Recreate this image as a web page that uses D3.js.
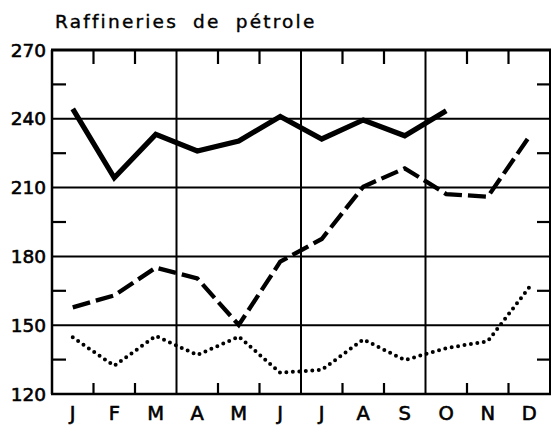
<!DOCTYPE html>
<html><head><meta charset="utf-8">
<script src="https://cdn.jsdelivr.net/npm/d3@7"></script>
<style>html,body{margin:0;padding:0;background:#fff;}svg{display:block;}</style>
</head><body>
<svg id="chart" width="552" height="425"></svg>
<script>
const months = ["J","F","M","A","M","J","J","A","S","O","N","D"];
const yTicks = [120,150,180,210,240,270];
const minorTicks = [135,165,195,225,255];
const quarterBounds = [3,6,9];
const seriesSolid = [244.3,214.3,233.2,226,230.3,241,231.2,239.5,232.6,243.5,null,null];
const seriesDashed = [157.8,163,175.1,170.4,150.1,177.7,187.6,210.4,218.4,207.2,206,232.2];
const seriesDotted = [144.7,132.3,145.3,137,145,129.3,130.5,143.8,134.8,140,143,166.5];
const title = "Raffineries de pétrole";

const svg = d3.select("#chart");
const L = 52, R = 550, T = 50, B = 394;
const idx = d3.range(months.length);
const x = d3.scaleBand().domain(idx).range([L, R]).paddingInner(0).paddingOuter(0);
const y = d3.scaleLinear().domain([120, 270]).range([B, T]);
const cx = i => x(i) + x.bandwidth() / 2;
const font = "'DejaVu Sans', sans-serif";

// horizontal grid lines
svg.append("g").selectAll("line").data(yTicks.filter(v => v > 120 && v < 270)).join("line")
  .attr("x1", L).attr("x2", R).attr("y1", d => y(d)).attr("y2", d => y(d))
  .attr("stroke", "#000").attr("stroke-width", 2);

// vertical quarter lines
svg.append("g").selectAll("line").data(quarterBounds).join("line")
  .attr("x1", d => x(d)).attr("x2", d => x(d)).attr("y1", T).attr("y2", B)
  .attr("stroke", "#000").attr("stroke-width", 2);

// month ticks (top and bottom)
const monthBounds = d3.range(1, 12).filter(i => !quarterBounds.includes(i));
svg.append("g").selectAll("line").data(monthBounds).join("line")
  .attr("x1", d => x(d)).attr("x2", d => x(d)).attr("y1", T).attr("y2", T + 14)
  .attr("stroke", "#000").attr("stroke-width", 2.2);
svg.append("g").selectAll("line").data(monthBounds).join("line")
  .attr("x1", d => x(d)).attr("x2", d => x(d)).attr("y1", B).attr("y2", B - 11)
  .attr("stroke", "#000").attr("stroke-width", 2.2);

// minor y ticks left and right
svg.append("g").selectAll("line").data(minorTicks).join("line")
  .attr("x1", L).attr("x2", L + 14).attr("y1", d => y(d)).attr("y2", d => y(d))
  .attr("stroke", "#000").attr("stroke-width", 2.2);
svg.append("g").selectAll("line").data(minorTicks).join("line")
  .attr("x1", R).attr("x2", R - 13).attr("y1", d => y(d)).attr("y2", d => y(d))
  .attr("stroke", "#000").attr("stroke-width", 2.2);

// frame
svg.append("line").attr("x1", L - 1).attr("x2", R + 1).attr("y1", T).attr("y2", T).attr("stroke", "#000").attr("stroke-width", 3);
svg.append("line").attr("x1", L - 1).attr("x2", R + 1).attr("y1", B).attr("y2", B).attr("stroke", "#000").attr("stroke-width", 2.5);
svg.append("line").attr("x1", L).attr("x2", L).attr("y1", T).attr("y2", B).attr("stroke", "#000").attr("stroke-width", 2.5);
svg.append("line").attr("x1", R).attr("x2", R).attr("y1", T).attr("y2", B).attr("stroke", "#000").attr("stroke-width", 2);

// y labels
svg.append("g").selectAll("text").data(yTicks).join("text")
  .attr("x", L - 6).attr("y", d => y(d)).attr("dy", "0.36em")
  .attr("text-anchor", "end").attr("font-family", font).attr("font-size", 18.5)
  .attr("stroke", "#000").attr("stroke-width", 0.6)
  .text(d => d);

// x labels
svg.append("g").selectAll("text").data(idx).join("text")
  .attr("x", d => cx(d)).attr("y", 420)
  .attr("text-anchor", "middle").attr("font-family", font).attr("font-size", 19.5)
  .attr("stroke", "#000").attr("stroke-width", 0.6)
  .text(d => months[d]);

// title
svg.append("text").attr("x", 55).attr("y", 28).attr("font-family", font)
  .attr("font-size", 18.5).attr("letter-spacing", 2.2).attr("word-spacing", 7)
  .attr("stroke", "#000").attr("stroke-width", 0.4)
  .text(title);

// series
const line = d3.line().defined(d => d[1] != null).x(d => cx(d[0])).y(d => y(d[1]));
const toPts = arr => arr.map((v, i) => [i, v]);
svg.append("path").attr("d", line(toPts(seriesSolid))).attr("fill", "none")
  .attr("stroke", "#000").attr("stroke-width", 5.2).attr("stroke-linejoin", "miter");
svg.append("path").attr("d", line(toPts(seriesDashed))).attr("fill", "none")
  .attr("stroke", "#000").attr("stroke-width", 4.3).attr("stroke-dasharray", "18,6");
svg.append("path").attr("d", line(toPts(seriesDotted))).attr("fill", "none")
  .attr("stroke", "#000").attr("stroke-width", 4).attr("stroke-linecap", "round")
  .attr("stroke-dasharray", "0,6.5");
</script>
</body></html>
